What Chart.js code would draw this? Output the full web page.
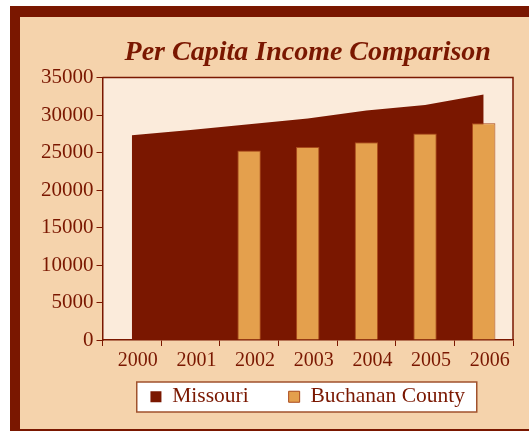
<!DOCTYPE html>
<html>
<head>
<meta charset="utf-8">
<script src="https://cdn.jsdelivr.net/npm/chart.js@4.4.1/dist/chart.umd.min.js"></script>
<style>
  html, body { margin: 0; padding: 0; background: #fff; }
  #wrap { width: 529px; height: 431px; position: relative; }
</style>
</head>
<body>
<div id="wrap"><canvas id="chart"></canvas></div>
<script>
// ---- datos ----
const years = ['2000', '2001', '2002', '2003', '2004', '2005', '2006'];
const missouri = [27300, 28000, 28780, 29550, 30620, 31330, 32760];
const buchanan = [null, null, 25260, 25750, 26370, 27560, 28920];
const yMin = 0, yMax = 35000, yStep = 5000;

const DARK = '#7A1700';
const PEACH = '#F5D3AC';
const PLOT_BG = '#FBEBDB';
const ORANGE = '#E4A04D';
const serif = "'Liberation Serif', 'Times New Roman', serif";
const LEGEND_GAP = 40;   // separacion entre entradas de la leyenda
const LEGEND_SHIFT = 30; // subir los items dentro de la caja

// fondo, marco y caja de leyenda
const framePlugin = {
  id: 'frame',
  beforeLayout(chart) {
    // la leyenda usa padding grande para separar items; recortamos su alto
    const lg = chart.legend;
    if (lg && !lg._patched) {
      const fit = lg.fit;
      lg.fit = function () { fit.call(this); this.height = 40; };
      lg._patched = true;
    }
  },
  beforeDraw(chart) {
    const ctx = chart.ctx, W = chart.width, H = chart.height;
    const a = chart.chartArea;
    const lg = chart.legend;
    lg.top -= LEGEND_SHIFT;
    ctx.save();
    ctx.fillStyle = '#fff';
    ctx.fillRect(0, 0, W, H);
    ctx.fillStyle = DARK;
    ctx.fillRect(10, 6, W - 10, H - 6);
    ctx.fillStyle = PEACH;
    ctx.fillRect(20, 17, W - 20, 412);
    // area del grafico
    ctx.fillStyle = PLOT_BG;
    ctx.fillRect(a.left, a.top, a.right - a.left, a.bottom - a.top);
    // caja blanca de la leyenda
    const cx = (a.left + a.right) / 2 - 1;
    const cy = lg.top + LEGEND_GAP + 10;
    ctx.fillStyle = '#fff';
    ctx.fillRect(cx - 170, cy - 14, 340, 30);
    ctx.strokeStyle = '#A0522D';
    ctx.lineWidth = 1.5;
    ctx.strokeRect(cx - 170, cy - 14, 340, 30);
    ctx.restore();
  },
  afterDatasetsDraw(chart) {
    const ctx = chart.ctx, a = chart.chartArea;
    ctx.save();
    ctx.strokeStyle = DARK;
    ctx.lineWidth = 1.5;
    ctx.beginPath();
    ctx.moveTo(a.left, a.top);
    ctx.lineTo(a.right, a.top);
    ctx.lineTo(a.right, a.bottom);
    ctx.stroke();
    ctx.restore();
  },
  afterDraw(chart) {
    chart.legend.top += LEGEND_SHIFT;
  }
};

new Chart(document.getElementById('chart').getContext('2d'), {
  type: 'bar',
  data: {
    labels: years,
    datasets: [
      {
        type: 'line', label: 'Missouri', data: missouri,
        backgroundColor: DARK, borderColor: DARK, borderWidth: 0,
        fill: 'origin', pointRadius: 0, tension: 0, order: 2
      },
      {
        type: 'bar', label: 'Buchanan County', data: buchanan,
        backgroundColor: ORANGE, borderColor: '#A9491B', borderWidth: 1,
        barPercentage: 0.4, categoryPercentage: 1, order: 1
      }
    ]
  },
  options: {
    responsive: true, maintainAspectRatio: false, animation: false,
    events: [],
    layout: { padding: { left: 38, right: 16, top: 36, bottom: 15 } },
    plugins: {
      title: {
        display: true, fullSize: false,
        text: 'Per Capita Income Comparison',
        color: DARK,
        font: { family: serif, size: 28, style: 'italic', weight: 'bold' },
        padding: { top: 0, bottom: 8 }
      },
      legend: {
        position: 'bottom', fullSize: false,
        labels: {
          color: DARK, boxWidth: 11, boxHeight: 11, padding: LEGEND_GAP,
          font: { family: serif, size: 21.5 },
          sort: (a, b) => a.datasetIndex - b.datasetIndex
        }
      },
      tooltip: { enabled: false }
    },
    scales: {
      x: {
        offset: true,
        grid: { offset: true, drawOnChartArea: false, color: DARK, tickLength: 6 },
        border: { color: DARK, width: 1.5 },
        ticks: { color: DARK, font: { family: serif, size: 20 }, labelOffset: 6, padding: 3, maxRotation: 0 }
      },
      y: {
        min: yMin, max: yMax,
        grid: { drawOnChartArea: false, color: DARK, tickLength: 6 },
        border: { color: DARK, width: 1.5 },
        ticks: {
          stepSize: yStep, color: DARK, font: { family: serif, size: 21 }, padding: 3,
          callback: v => String(v)
        }
      }
    }
  },
  plugins: [framePlugin]
});
</script>
</body>
</html>
